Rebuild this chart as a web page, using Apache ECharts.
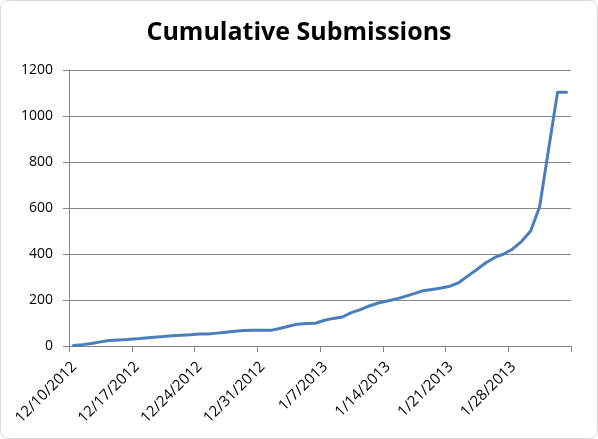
<!DOCTYPE html>
<html>
<head>
<meta charset="utf-8">
<script src="https://cdn.jsdelivr.net/npm/echarts@6/dist/echarts.min.js"></script>
<style>
  html, body { margin: 0; padding: 0; background: #fff; }
  #chart { width: 598px; height: 439px; }
</style>
</head>
<body>
<div id="chart"></div>
<script>
// one point per day, 12/10/2012 .. 2/3/2013
var dates = [
  "12/10/2012", "12/11/2012", "12/12/2012", "12/13/2012", "12/14/2012", "12/15/2012", "12/16/2012",
  "12/17/2012", "12/18/2012", "12/19/2012", "12/20/2012", "12/21/2012", "12/22/2012", "12/23/2012",
  "12/24/2012", "12/25/2012", "12/26/2012", "12/27/2012", "12/28/2012", "12/29/2012", "12/30/2012",
  "12/31/2012", "1/1/2013", "1/2/2013", "1/3/2013", "1/4/2013", "1/5/2013", "1/6/2013",
  "1/7/2013", "1/8/2013", "1/9/2013", "1/10/2013", "1/11/2013", "1/12/2013", "1/13/2013",
  "1/14/2013", "1/15/2013", "1/16/2013", "1/17/2013", "1/18/2013", "1/19/2013", "1/20/2013",
  "1/21/2013", "1/22/2013", "1/23/2013", "1/24/2013", "1/25/2013", "1/26/2013", "1/27/2013",
  "1/28/2013", "1/29/2013", "1/30/2013", "1/31/2013", "2/1/2013", "2/2/2013", "2/3/2013"
];
var submissions = [
  2, 6, 11, 18, 24, 26, 28,
  31, 35, 38, 41, 45, 47, 49,
  52, 52, 56, 60, 64, 67, 68,
  68, 68, 76, 86, 95, 98, 99,
  112, 120, 126, 145, 158, 174, 187,
  196, 204, 216, 228, 240, 246, 252,
  260, 276, 305, 333, 362, 385, 400,
  422, 455, 500, 605, 855, 1103, 1103
];
var tickLabels = ["12/10/2012", "12/17/2012", "12/24/2012", "12/31/2012",
                  "1/7/2013", "1/14/2013", "1/21/2013", "1/28/2013", ""];
var yTicks = [0, 200, 400, 600, 800, 1000, 1200];

var chart = echarts.init(document.getElementById("chart"));
var gray = "#868686";

chart.setOption({
  backgroundColor: "#fff",
  animation: false,
  graphic: [{
    type: "rect",
    shape: { x: 0.5, y: 0.5, width: 597, height: 438, r: 8 },
    style: { fill: "none", stroke: "#d9d9d9", lineWidth: 1 },
    silent: true
  }],
  title: {
    text: "Cumulative Submissions",
    left: "center",
    top: 15,
    textStyle: { fontFamily: "Open Sans", fontWeight: "bold", fontSize: 25, color: "#000" }
  },
  grid: { left: 69, right: 27, top: 70, bottom: 93 },
  xAxis: {
    type: "value",
    min: 0,
    max: dates.length,
    interval: 7,
    splitLine: { show: false },
    axisLine: { show: true, lineStyle: { color: gray, width: 1 } },
    axisTick: { show: true, length: 6, lineStyle: { color: gray } },
    axisLabel: {
      rotate: 45,
      margin: 13,
      verticalAlign: "top",
      color: "#000",
      fontFamily: "Open Sans",
      fontSize: 15,
      formatter: function (v) { return tickLabels[Math.round(v / 7)] || ""; }
    }
  },
  yAxis: {
    type: "value",
    min: yTicks[0],
    max: yTicks[yTicks.length - 1],
    interval: 200,
    axisLine: { show: true, lineStyle: { color: gray, width: 1 } },
    axisTick: { show: true, length: 6, lineStyle: { color: gray } },
    splitLine: { show: true, lineStyle: { color: gray, width: 1 } },
    axisLabel: {
      margin: 16,
      color: "#000",
      fontFamily: "Open Sans",
      fontSize: 14,
      formatter: function (v) { return String(v); }
    }
  },
  series: [{
    type: "line",
    // each day sits in the middle of its slot on the date axis
    data: submissions.map(function (v, i) { return [i + 0.5, v]; }),
    showSymbol: false,
    lineStyle: { color: "#4a7ebb", width: 3, cap: "round", join: "round" },
    itemStyle: { color: "#4a7ebb" }
  }]
});
</script>
</body>
</html>
